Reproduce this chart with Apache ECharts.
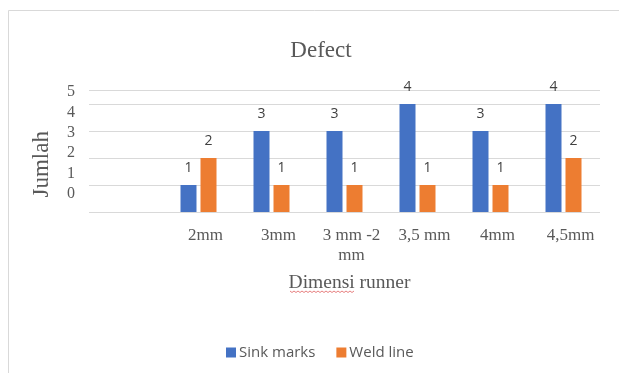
<!DOCTYPE html>
<html>
<head>
<meta charset="utf-8">
<script src="https://cdn.jsdelivr.net/npm/echarts@6/dist/echarts.min.js"></script>
<style>
  html, body { margin: 0; padding: 0; background: #fff; }
  #chart { width: 619px; height: 373px; }
</style>
</head>
<body>
<div id="chart"></div>
<script>
// Runner dimensions (first slot intentionally left blank)
const categories = ["", "2mm", "3mm", "3 mm -2\nmm", "3,5 mm", "4mm", "4,5mm"];
const sinkMarks = [null, 1, 3, 3, 4, 3, 4];
const weldLine = [null, 2, 1, 1, 1, 1, 2];
const yTickLabels = ["0", "1", "2", "3", "4", "5"];

const serif = '"Liberation Serif", "Times New Roman", serif';
const sans = '"Open Sans", "Noto Sans", sans-serif';
const textGray = '#595959';

const chart = echarts.init(document.getElementById('chart'), null, { renderer: 'canvas' });

const labelStyle = {
  show: true,
  position: 'top',
  distance: 10,
  fontFamily: sans,
  fontSize: 14,
  color: '#404040'
};

// spell-check squiggle under "Dimensi"
const squiggle = [];
for (let i = 0; i <= 32; i++) {
  squiggle.push([290 + i * 2, 291 + (i % 2 === 0 ? 0 : 1.5)]);
}

chart.setOption({
  animation: false,
  backgroundColor: '#ffffff',
  title: {
    text: 'Defect',
    left: 316,
    top: 34,
    textAlign: 'center',
    textStyle: { fontFamily: serif, fontSize: 23, fontWeight: 'normal', color: textGray }
  },
  legend: {
    left: 221,
    top: 340,
    icon: 'rect',
    itemWidth: 10,
    itemHeight: 10,
    itemGap: 21,
    textStyle: { fontFamily: sans, fontSize: 15, color: textGray, padding: [0, 0, 0, -2] },
    data: ['Sink marks', 'Weld line']
  },
  grid: [
    { left: 89, right: 19, top: 90.5, height: 121.5 },
    { left: 89, right: 19, top: 92, height: 102 }
  ],
  xAxis: [
    {
      type: 'category',
      gridIndex: 0,
      data: categories,
      axisLine: { show: false },
      axisTick: { show: false },
      axisLabel: {
        interval: 0,
        margin: 14,
        fontFamily: serif,
        fontSize: 17,
        lineHeight: 20,
        color: textGray,
        padding: [0, 0, 0, 14]
      },
      name: 'Dimensi runner',
      nameLocation: 'middle',
      nameGap: 61,
      nameTextStyle: { fontFamily: serif, fontSize: 19.5, color: textGray, padding: [0, 0, 0, 10] }
    },
    { type: 'category', gridIndex: 1, show: false, data: categories }
  ],
  yAxis: [
    {
      type: 'value',
      gridIndex: 0,
      min: 0,
      max: 4.5,
      interval: 1,
      axisLabel: { show: false },
      axisLine: { show: false },
      axisTick: { show: false },
      splitLine: { lineStyle: { color: '#d9d9d9', width: 1 } },
      name: 'Jumlah',
      nameLocation: 'middle',
      nameRotate: 90,
      nameGap: 36,
      nameTextStyle: { fontFamily: serif, fontSize: 23, color: textGray, padding: [0, 26, 0, 0] }
    },
    {
      type: 'value',
      gridIndex: 1,
      min: 0,
      max: 5,
      interval: 1,
      axisLine: { show: false },
      axisTick: { show: false },
      splitLine: { show: false },
      axisLabel: {
        margin: 14,
        fontFamily: serif,
        fontSize: 16,
        color: textGray,
        formatter: (v) => yTickLabels[v]
      }
    }
  ],
  series: [
    {
      name: 'Sink marks',
      type: 'bar',
      xAxisIndex: 0,
      yAxisIndex: 0,
      data: sinkMarks,
      barWidth: 16,
      barGap: '25%',
      itemStyle: { color: '#4472C4' },
      label: labelStyle
    },
    {
      name: 'Weld line',
      type: 'bar',
      xAxisIndex: 0,
      yAxisIndex: 0,
      data: weldLine,
      barWidth: 16,
      barGap: '25%',
      itemStyle: { color: '#ED7D31' },
      label: labelStyle
    }
  ],
  graphic: [
    {
      type: 'rect',
      silent: true,
      shape: { x: 8.5, y: 10.5, width: 700, height: 500 },
      style: { fill: 'none', stroke: '#d9d9d9', lineWidth: 1 }
    },
    {
      type: 'polyline',
      silent: true,
      shape: { points: squiggle },
      style: { fill: 'none', stroke: '#e06060', lineWidth: 0.8 }
    }
  ]
});
</script>
</body>
</html>
